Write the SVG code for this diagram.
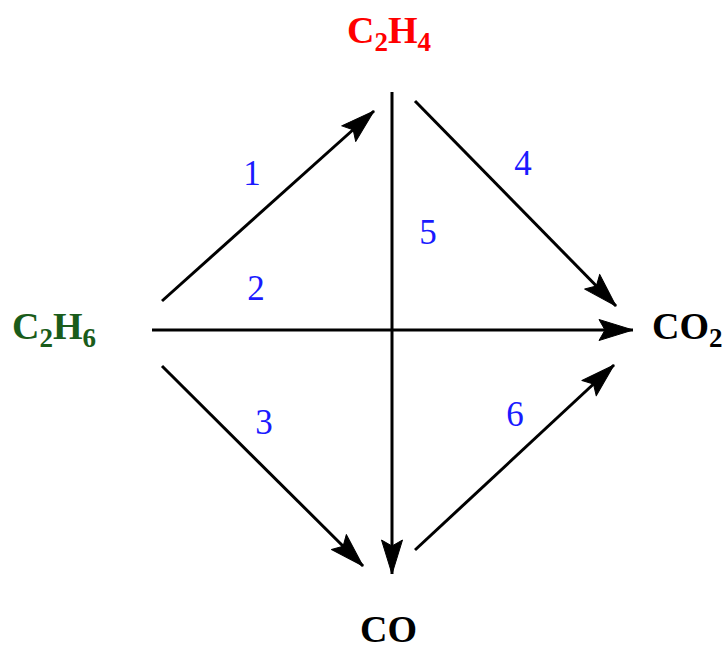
<svg xmlns="http://www.w3.org/2000/svg" width="724" height="650" viewBox="0 0 724 650">
<style>
.sp{font-family:"Liberation Serif",serif;font-weight:bold;font-size:38px}
.sub{font-size:27px}
.num{font-family:"Liberation Serif",serif;font-size:35px;fill:#1a1aff}
.ln{stroke:#000;stroke-width:3;fill:none}
</style>
<defs>
<marker id="ah" markerUnits="userSpaceOnUse" markerWidth="42" markerHeight="30" viewBox="-37 -15 42 30" refX="0" refY="0" orient="auto">
<path d="M0,0 L-34,-10.5 L-28,0 L-34,10.5 Z" fill="#000" stroke="#000" stroke-width="1" stroke-linejoin="round"/>
</marker>
</defs>
<rect width="724" height="650" fill="#fff"/>
<g id="connectors">
<line class="ln" x1="162" y1="301" x2="374" y2="111" marker-end="url(#ah)"/>
<line class="ln" x1="152" y1="330" x2="633" y2="330" marker-end="url(#ah)"/>
<line class="ln" x1="162" y1="366" x2="363" y2="566" marker-end="url(#ah)"/>
<line class="ln" x1="415" y1="101" x2="616" y2="306" marker-end="url(#ah)"/>
<line class="ln" x1="392" y1="92" x2="392" y2="574" marker-end="url(#ah)"/>
<line class="ln" x1="415" y1="550" x2="614" y2="365" marker-end="url(#ah)"/>
</g>
<g id="labels">
<text class="num" x="252" y="185" text-anchor="middle">1</text>
<text class="num" x="256" y="300" text-anchor="middle">2</text>
<text class="num" x="264" y="434" text-anchor="middle">3</text>
<text class="num" x="523" y="175" text-anchor="middle">4</text>
<text class="num" x="428" y="244" text-anchor="middle">5</text>
<text class="num" x="515" y="426" text-anchor="middle">6</text>
</g>
<g id="C2H4"><text class="sp" x="347" y="43" fill="#ff0000">C<tspan class="sub" dy="8">2</tspan><tspan dy="-8">H</tspan><tspan class="sub" dy="8">4</tspan></text></g>
<g id="C2H6"><text class="sp" x="12" y="339" fill="#1a5c1a">C<tspan class="sub" dy="8">2</tspan><tspan dy="-8">H</tspan><tspan class="sub" dy="8">6</tspan></text></g>
<g id="CO2"><text class="sp" x="652" y="339" fill="#000">CO<tspan class="sub" dy="8">2</tspan></text></g>
<g id="CO"><text class="sp" x="360" y="642" fill="#000">CO</text></g>
</svg>
